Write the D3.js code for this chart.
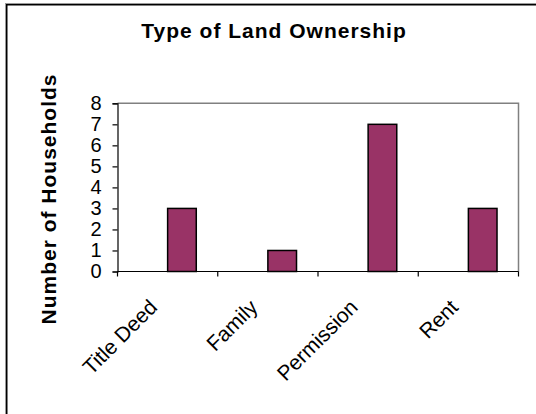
<!DOCTYPE html>
<html>
<head>
<meta charset="utf-8">
<script src="https://cdn.jsdelivr.net/npm/d3@7/dist/d3.min.js"></script>
<style>
  html, body { margin: 0; padding: 0; background: #fff; }
  svg { display: block; font-family: "Liberation Sans", Arial, sans-serif; }
</style>
</head>
<body>
<svg id="chart" width="536" height="414"></svg>
<script>
// Household counts by type of land ownership
const categories = ["Title Deed", "Family", "Permission", "Rent"];
const households = [3, 1, 7, 3];
const yTicks = [0, 1, 2, 3, 4, 5, 6, 7, 8];
const chartTitle = "Type of Land Ownership";
const yTitle = "Number of Households";

const FONT = "'Liberation Sans', Arial, sans-serif";
const svg = d3.select("#chart");
const W = 536, H = 414;

// Outer chart frame (runs off the right and bottom edges)
svg.append("rect")
  .attr("x", 5.5).attr("y", 3.5).attr("width", W + 20).attr("height", H + 20)
  .attr("fill", "none").attr("stroke", "#9a9a9a").attr("stroke-width", 1);
svg.append("rect")
  .attr("x", 6.75).attr("y", 4.75).attr("width", W + 20).attr("height", H + 20)
  .attr("fill", "#fff").attr("stroke", "#000").attr("stroke-width", 1.5);

const plot = { left: 117.5, right: 518.5, top: 103.3, bottom: 271.5 };

const x = d3.scaleBand()
  .domain(categories)
  .range([plot.left, plot.right])
  .paddingInner(0).paddingOuter(0);

const y = d3.scaleLinear()
  .domain([0, 8])
  .range([plot.bottom, plot.top]);

// Each category slot holds two bar positions with a 150% gap; the count sits in the second one
const barW = x.bandwidth() / 3.5;
const barOffset = barW * 0.75 + barW;

// Plot-area frame: grey top and right edges
svg.append("path")
  .attr("d", `M${plot.left},${plot.top}H${plot.right}V${plot.bottom}`)
  .attr("fill", "none").attr("stroke", "#808080").attr("stroke-width", 1.5);

// Bars
svg.append("g").selectAll("rect")
  .data(categories.map((c, i) => ({ c, v: households[i] })))
  .join("rect")
  .attr("x", d => x(d.c) + barOffset)
  .attr("y", d => y(d.v))
  .attr("width", barW)
  .attr("height", d => y(0) - y(d.v))
  .attr("fill", "#993366")
  .attr("stroke", "#000")
  .attr("stroke-width", 1.5);

// Y axis
const yAxis = svg.append("g")
  .attr("transform", `translate(${plot.left},0)`)
  .call(d3.axisLeft(y).tickValues(yTicks).tickFormat(d3.format("d")).tickSize(5).tickPadding(11));
yAxis.select(".domain").attr("stroke", "#000").attr("stroke-width", 1.2);
yAxis.selectAll(".tick line").attr("stroke", "#000").attr("stroke-width", 1.2);
yAxis.selectAll(".tick text")
  .attr("font-size", 20).attr("font-family", FONT)
  .attr("fill", "#000");

// X axis: ticks at category boundaries
svg.append("line")
  .attr("x1", plot.left).attr("x2", plot.right)
  .attr("y1", plot.bottom).attr("y2", plot.bottom)
  .attr("stroke", "#000").attr("stroke-width", 1.2);
const boundaries = categories.map(c => x(c)).concat([x.range()[1]]);
svg.append("g").selectAll("line")
  .data(boundaries)
  .join("line")
  .attr("x1", d => d).attr("x2", d => d)
  .attr("y1", plot.bottom).attr("y2", plot.bottom + 5)
  .attr("stroke", "#000").attr("stroke-width", 1.2);

// Rotated category labels
svg.append("g").selectAll("text")
  .data(categories)
  .join("text")
  .attr("transform", c => `translate(${x(c) + x.bandwidth() / 2 - 9},${plot.bottom + 37}) rotate(-45)`)
  .attr("text-anchor", "end")
  .attr("font-family", FONT)
  .attr("font-size", 21)
  .attr("fill", "#000")
  .text(c => c);

// Chart title
svg.append("text")
  .attr("x", 274).attr("y", 38.3)
  .attr("text-anchor", "middle")
  .attr("font-family", FONT)
  .attr("font-size", 21).attr("font-weight", "bold")
  .attr("letter-spacing", 1)
  .attr("fill", "#000")
  .text(chartTitle);

// Y axis title
svg.append("text")
  .attr("transform", "translate(56,199) rotate(-90)")
  .attr("text-anchor", "middle")
  .attr("font-family", FONT)
  .attr("font-size", 21).attr("font-weight", "bold")
  .attr("letter-spacing", 1)
  .attr("fill", "#000")
  .text(yTitle);
</script>
</body>
</html>
